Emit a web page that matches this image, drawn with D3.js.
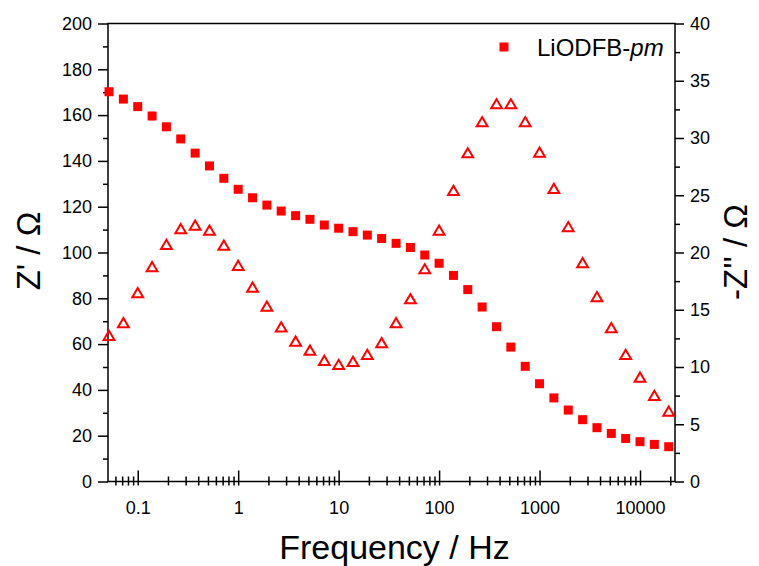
<!DOCTYPE html>
<html>
<head>
<meta charset="utf-8">
<script src="https://cdn.jsdelivr.net/npm/d3@7"></script>
<style>
  body { margin: 0; background: #fff; }
  svg { display: block; font-family: "Liberation Sans", Arial, sans-serif; }
</style>
</head>
<body>
<div id="chart"></div>
<script>
// frequencies (Hz), 7 points per decade
const freqs = [0.0518, 0.0720, 0.1, 0.139, 0.193, 0.268, 0.373, 0.518, 0.720, 1,
  1.39, 1.93, 2.68, 3.73, 5.18, 7.20, 10, 13.9, 19.3, 26.8,
  37.3, 51.8, 72.0, 100, 139, 193, 268, 373, 518, 720,
  1000, 1389, 1931, 2683, 3728, 5179, 7197, 10000, 13895, 19307];

// Z' (left axis)
const zReal = [170.2, 167.0, 163.7, 159.6, 154.9, 149.6, 143.4, 137.8, 132.4, 127.6,
  123.9, 120.7, 118.1, 116.1, 114.5, 112.0, 110.6, 109.1, 107.6, 106.1,
  104.0, 102.2, 98.9, 95.3, 90.0, 83.8, 76.2, 67.6, 58.7, 50.3,
  42.7, 36.5, 31.2, 27.0, 23.5, 21.0, 18.8, 17.4, 16.2, 15.2];

// -Z'' (right axis)
const zImag = [12.71, 13.82, 16.44, 18.71, 20.66, 22.03, 22.34, 21.90, 20.6, 18.82,
  16.93, 15.27, 13.46, 12.21, 11.42, 10.52, 10.17, 10.44, 11.05, 12.07,
  13.82, 15.91, 18.53, 21.9, 25.37, 28.66, 31.37, 32.94, 32.94, 31.37,
  28.72, 25.55, 22.2, 19.06, 16.09, 13.38, 11.05, 9.07, 7.47, 6.10];

const xMajor = [0.1, 1, 10, 100, 1000, 10000];
const xLabels = ['0.1', '1', '10', '100', '1000', '10000'];
const leftTicks = [0, 20, 40, 60, 80, 100, 120, 140, 160, 180, 200];
const rightTicks = [0, 5, 10, 15, 20, 25, 30, 35, 40];

const legendLabel = 'LiODFB-';
const legendItalic = 'pm';

const width = 759, height = 566;
const plotLeft = 108, plotRight = 675, plotTop = 23.5, plotBottom = 481.5;
const red = '#ff0000';

const svg = d3.select('#chart').append('svg')
  .attr('width', width).attr('height', height);

const x = d3.scaleLog().domain([0.0506, 22300]).range([plotLeft, plotRight]);
const yL = d3.scaleLinear().domain([0, 200]).range([plotBottom, plotTop]);
const yR = d3.scaleLinear().domain([0, 40]).range([plotBottom, plotTop]);

// minor ticks on x
const xMinor = [];
for (let e = -2; e <= 4; e++) {
  for (let m = 2; m <= 9; m++) {
    const v = m * Math.pow(10, e);
    if (v >= x.domain()[0] && v <= x.domain()[1]) xMinor.push(v);
  }
}

const axisStyle = g => {
  g.select('.domain').remove();
  g.selectAll('line').attr('stroke', '#000').attr('stroke-width', 1.5);
  g.selectAll('text').attr('fill', '#000').style('font-size', '18px');
};

// x axis: ticks cross the line
svg.append('g').attr('transform', `translate(0,${plotBottom})`)
  .call(d3.axisBottom(x).tickValues(xMinor).tickSize(4).tickFormat(''))
  .call(axisStyle)
  .selectAll('line').attr('y1', -5);
svg.append('g').attr('transform', `translate(0,${plotBottom})`)
  .call(d3.axisBottom(x).tickValues(xMajor).tickSize(4).tickPadding(16)
    .tickFormat((d, i) => xLabels[i]))
  .call(axisStyle)
  .selectAll('line').attr('y1', -11);

// left axis, outward ticks
svg.append('g').attr('transform', `translate(${plotLeft},0)`)
  .call(d3.axisLeft(yL).tickValues(d3.range(10, 200, 20)).tickSize(5).tickFormat(''))
  .call(axisStyle);
svg.append('g').attr('transform', `translate(${plotLeft},0)`)
  .call(d3.axisLeft(yL).tickValues(leftTicks).tickSize(10).tickPadding(6))
  .call(axisStyle);

// right axis, outward ticks
svg.append('g').attr('transform', `translate(${plotRight},0)`)
  .call(d3.axisRight(yR).tickValues(d3.range(2.5, 40, 5)).tickSize(5).tickFormat(''))
  .call(axisStyle);
svg.append('g').attr('transform', `translate(${plotRight},0)`)
  .call(d3.axisRight(yR).tickValues(rightTicks).tickSize(9).tickPadding(6))
  .call(axisStyle);

// frame
svg.append('rect')
  .attr('x', plotLeft).attr('y', plotTop)
  .attr('width', plotRight - plotLeft).attr('height', plotBottom - plotTop)
  .attr('fill', 'none').attr('stroke', '#000').attr('stroke-width', 1.5);

// Z' squares
svg.append('g').selectAll('rect')
  .data(freqs)
  .enter().append('rect')
  .attr('x', (d, i) => x(d) - 4.5)
  .attr('y', (d, i) => yL(zReal[i]) - 4.5)
  .attr('width', 9).attr('height', 9)
  .attr('fill', red);

// -Z'' open triangles
const tri = 'M0,-5.2L5.4,4L-5.4,4Z';
svg.append('g').selectAll('path')
  .data(freqs)
  .enter().append('path')
  .attr('d', tri)
  .attr('transform', (d, i) => `translate(${x(d)},${yR(zImag[i])})`)
  .attr('fill', 'none')
  .attr('stroke', red)
  .attr('stroke-width', 2);

// legend
svg.append('rect').attr('x', 499.5).attr('y', 42.5)
  .attr('width', 9).attr('height', 9).attr('fill', red);
const lt = svg.append('text').attr('x', 537).attr('y', 56)
  .style('font-size', '24px').attr('fill', '#000');
lt.append('tspan').text(legendLabel);
lt.append('tspan').style('font-style', 'italic').text(legendItalic);

// axis titles
svg.append('text')
  .attr('x', (plotLeft + plotRight) / 2 + 3).attr('y', 559)
  .attr('text-anchor', 'middle')
  .style('font-size', '34px')
  .text('Frequency / Hz');

svg.append('text')
  .attr('transform', 'translate(40,251) rotate(-90)')
  .attr('text-anchor', 'middle')
  .style('font-size', '33px')
  .text("Z' / Ω");

svg.append('text')
  .attr('transform', 'translate(747,252) rotate(-90)')
  .attr('text-anchor', 'middle')
  .style('font-size', '33px')
  .text("-Z'' / Ω");
</script>
</body>
</html>
